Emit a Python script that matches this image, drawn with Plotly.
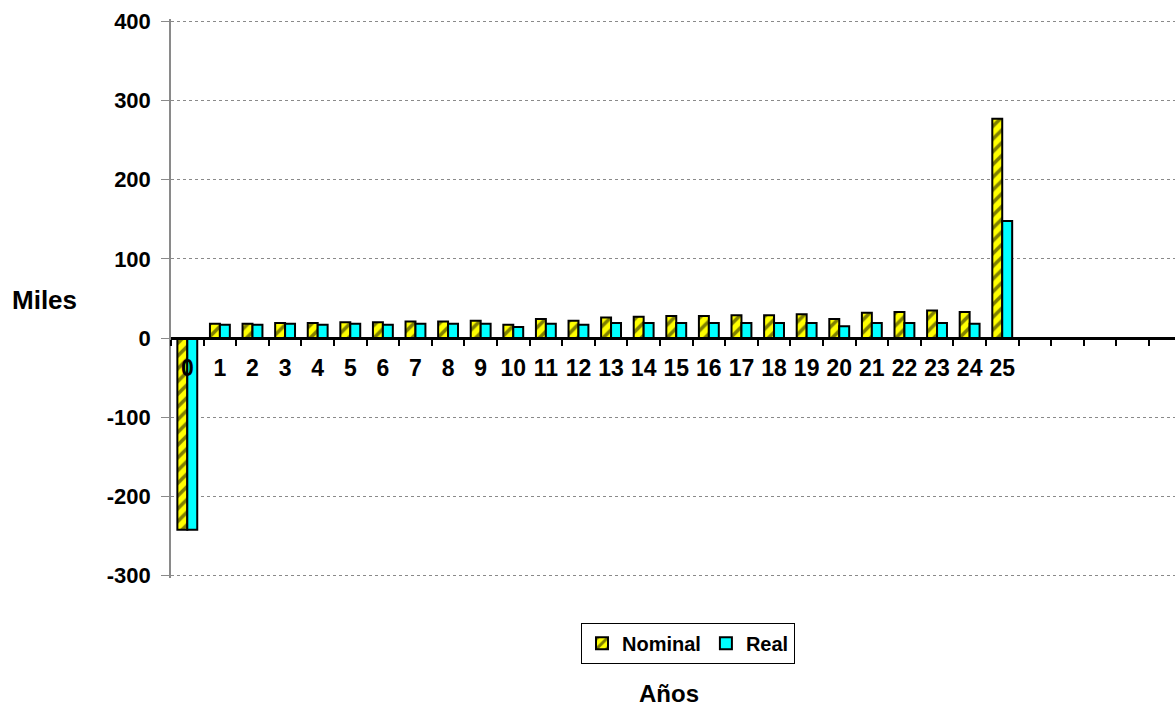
import plotly.graph_objects as go

# Cash flows per year, in thousands
years = [str(i) for i in range(26)]
nominal = [-242, 18, 18, 19, 19, 20, 20, 21, 21, 22, 17, 24, 22, 26, 27, 28, 28, 29, 29, 30,
           24, 32, 33, 35, 33, 277]
real = [-242, 17, 17, 18, 17, 18, 17, 18, 18, 18, 14, 18, 17, 19, 19, 19, 19, 19, 19, 19,
        15, 19, 19, 19, 18, 148]
y_ticks = [-300, -200, -100, 0, 100, 200, 300, 400]

n_slots = 31  # axis keeps room for empty years after the last one
x_pos = list(range(len(years)))

FONT = "Liberation Sans, Arial, sans-serif"
W, H = 1175, 709
M_L, M_R, M_T, M_B = 171, 0, 18.6, 130.9
PW = W - M_L - M_R
PH = H - M_T - M_B
Y_MIN, Y_MAX = -303, 403
x_range = [-0.5, n_slots - 0.7]
zero_pos = (0 - Y_MIN) / (Y_MAX - Y_MIN)


def px_x(px):
    return (px - M_L) / PW


def px_y(py):
    return (H - M_B - py) / PH


fig = go.Figure()
fig.add_trace(go.Bar(
    x=x_pos, y=nominal, name="Nominal",
    marker=dict(color="#FFFF00",
                line=dict(color="black", width=2),
                pattern=dict(shape="/", fgcolor="black", bgcolor="#FFFF00",
                             size=9, solidity=0.4)),
))
fig.add_trace(go.Bar(
    x=x_pos, y=real, name="Real",
    marker=dict(color="#00FFFF", line=dict(color="black", width=2)),
))

fig.update_layout(
    width=W, height=H,
    margin=dict(l=M_L, r=M_R, t=M_T, b=M_B),
    paper_bgcolor="white", plot_bgcolor="white",
    barmode="group", bargap=0.39, bargroupgap=0,
    font=dict(family=FONT, color="black"),
    showlegend=True,
    legend=dict(
        orientation="h", x=px_x(688), xanchor="center", y=px_y(623), yanchor="top",
        bordercolor="black", borderwidth=1, bgcolor="white",
        font=dict(family=FONT, size=20, weight="bold", color="black"),
        itemwidth=30, tracegroupgap=0,
    ),
    xaxis=dict(
        range=x_range, anchor="free", position=zero_pos,
        tickmode="array", tickvals=x_pos, ticktext=years,
        ticks="", ticklabelstandoff=9,
        showgrid=False, zeroline=False,
        showline=True, linecolor="black", linewidth=2.5,
        minor=dict(tickmode="array", tickvals=[i - 0.5 for i in range(n_slots + 1)],
                   ticks="outside", ticklen=6, tickwidth=2, tickcolor="black",
                   showgrid=False),
        tickfont=dict(family=FONT, size=23, weight="bold", color="black"),
    ),
    yaxis=dict(
        range=[Y_MIN, Y_MAX],
        tickmode="array", tickvals=y_ticks, ticktext=[str(v) for v in y_ticks],
        showgrid=True, gridcolor="#8a8a8a", gridwidth=1, griddash="dot",
        zeroline=False, showline=True, linecolor="#8a8a8a", linewidth=1.5,
        ticks="outside", ticklen=8, tickcolor="#8a8a8a", tickwidth=1,
        ticklabelstandoff=6,
        tickfont=dict(family=FONT, size=22, weight="bold", color="black"),
    ),
    annotations=[
        dict(text="Miles", xref="paper", yref="paper", x=px_x(44), y=px_y(300),
             xanchor="center", yanchor="middle", showarrow=False,
             font=dict(family=FONT, size=26, weight="bold", color="black")),
        dict(text="Años", xref="paper", yref="paper", x=px_x(669), y=px_y(694),
             xanchor="center", yanchor="middle", showarrow=False,
             font=dict(family=FONT, size=24, weight="bold", color="black")),
    ],
)

fig.write_html("out.html")
